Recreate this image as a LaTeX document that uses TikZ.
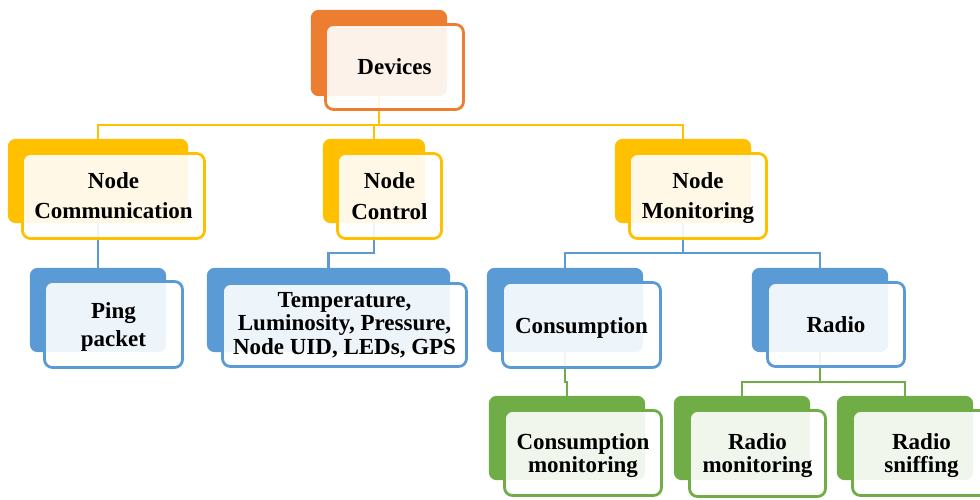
\documentclass[tikz,border=0pt]{standalone}
\usepackage{fontspec}
\setmainfont{Liberation Serif}
\usetikzlibrary{calc}

\definecolor{cOrange}{HTML}{ED7D31}
\definecolor{cYellow}{HTML}{FFC000}
\definecolor{cBlue}{HTML}{5B9BD5}
\definecolor{cGreen}{HTML}{70AD47}

\tikzset{
  backbox/.style={fill=#1, draw=none, rounded corners=8pt, inner sep=0pt},
  frontbox/.style={draw=#1, line width=2.8pt, fill=white, fill opacity=0.9,
    draw opacity=1, text opacity=1, rounded corners=8pt, inner sep=0pt,
    align=center, text=black},
  linkline/.style={draw=#1, line width=2.4pt},
  lbl/.style={font=\bfseries\fontsize{23}{#1}\selectfont},
}

\begin{document}
\begin{tikzpicture}[x=1pt, y=-1pt]
\path[use as bounding box, clip] (0,0) rectangle (980,500);

% back plates (positions only; filled after the connectors below)
\path
  (379,53)   node[minimum width=136pt, minimum height=86pt] (devb) {}
  (98,181)   node[minimum width=180pt, minimum height=84pt] (commb) {}
  (374,181)  node[minimum width=102pt, minimum height=84pt] (ctrlb) {}
  (683,181)  node[minimum width=136pt, minimum height=84pt] (monb) {}
  (98,310)   node[minimum width=136pt, minimum height=84pt] (pingb) {}
  (328.5,310) node[minimum width=243pt, minimum height=84pt] (tempb) {}
  (565,310)  node[minimum width=156pt, minimum height=84pt] (consb) {}
  (820,310)  node[minimum width=136pt, minimum height=84pt] (radiob) {}
  (567,438)  node[minimum width=156pt, minimum height=84pt] (cmonb) {}
  (742,438)  node[minimum width=136pt, minimum height=84pt] (rmonb) {}
  (905,438)  node[minimum width=136pt, minimum height=84pt] (rsnfb) {};

% bus levels
\coordinate (busA) at (0,125);
\coordinate (busB) at (0,253);
\coordinate (busC) at (0,382);

% connectors
\draw[linkline=cYellow] (devb.south) -- (devb.south |- busA) -| (commb.north);
\draw[linkline=cYellow] (devb.south |- busA) -| (ctrlb.north);
\draw[linkline=cYellow] (devb.south |- busA) -| (monb.north);

\draw[linkline=cBlue] (commb.south) -- (pingb.north);
\draw[linkline=cBlue] (ctrlb.south) -- (ctrlb.south |- busB) -| (tempb.north);
\draw[linkline=cBlue] (monb.south) -- (monb.south |- busB) -| (consb.north);
\draw[linkline=cBlue] (monb.south |- busB) -| (radiob.north);

\draw[linkline=cGreen] (consb.south) -- (consb.south |- busC) -| (cmonb.north);
\draw[linkline=cGreen] (radiob.south) -- (radiob.south |- busC) -| (rmonb.north);
\draw[linkline=cGreen] (radiob.south |- busC) -| (rsnfb.north);

% Devices
\fill[backbox=cOrange] (devb.north west) rectangle (devb.south east);
\node[frontbox=cOrange, lbl=30, minimum width=138pt, minimum height=85pt] (devf) at (394.5,67) {Devices};

% second level
\fill[backbox=cYellow] (commb.north west) rectangle (commb.south east);
\node[frontbox=cYellow, lbl=30, minimum width=182pt, minimum height=85pt] (commf) at (113.5,196) {Node\\Communication};

\fill[backbox=cYellow] (ctrlb.north west) rectangle (ctrlb.south east);
\node[frontbox=cYellow, lbl=31, minimum width=104pt, minimum height=85pt] (ctrlf) at (389.5,196) {Node\\Control};

\fill[backbox=cYellow] (monb.north west) rectangle (monb.south east);
\node[frontbox=cYellow, lbl=30, minimum width=137pt, minimum height=85pt] (monf) at (698,196) {};
\node[lbl=30, align=center] at (698,198) {Node\\Monitoring};

% third level
\fill[backbox=cBlue] (pingb.north west) rectangle (pingb.south east);
\node[frontbox=cBlue, lbl=28, minimum width=138pt, minimum height=86pt] (pingf) at (113.5,324.5) {};
\node[lbl=28, align=center] at (113.5,326.5) {Ping\\packet};

\fill[backbox=cBlue] (tempb.north west) rectangle (tempb.south east);
\node[frontbox=cBlue, lbl=23.5, minimum width=244pt, minimum height=83pt] (tempf) at (344.5,325) {Temperature,\\Luminosity, Pressure,\\Node UID, LEDs, GPS};

\fill[backbox=cBlue] (consb.north west) rectangle (consb.south east);
\node[frontbox=cBlue, lbl=27, minimum width=158pt, minimum height=85pt] (consf) at (581.5,325) {};
\node[lbl=27] at (581.5,328) {Consumption};

\fill[backbox=cBlue] (radiob.north west) rectangle (radiob.south east);
\node[frontbox=cBlue, lbl=27, minimum width=137pt, minimum height=84pt] (radiof) at (836,324.5) {Radio};

% fourth level
\fill[backbox=cGreen] (cmonb.north west) rectangle (cmonb.south east);
\node[frontbox=cGreen, minimum width=157pt, minimum height=85pt] (cmonf) at (583,453) {};
\node[lbl=23, align=center] at (583,455.5) {Consumption\\monitoring};

\fill[backbox=cGreen] (rmonb.north west) rectangle (rmonb.south east);
\node[frontbox=cGreen, minimum width=136pt, minimum height=86pt] (rmonf) at (757.5,453.5) {};
\node[lbl=23, align=center] at (757.5,455.5) {Radio\\monitoring};

\fill[backbox=cGreen] (rsnfb.north west) rectangle (rsnfb.south east);
\node[frontbox=cGreen, minimum width=138pt, minimum height=85pt] (rsnff) at (921.5,453) {};
\node[lbl=23, align=center] at (921.5,456) {Radio\\sniffing};
\end{tikzpicture}
\end{document}
